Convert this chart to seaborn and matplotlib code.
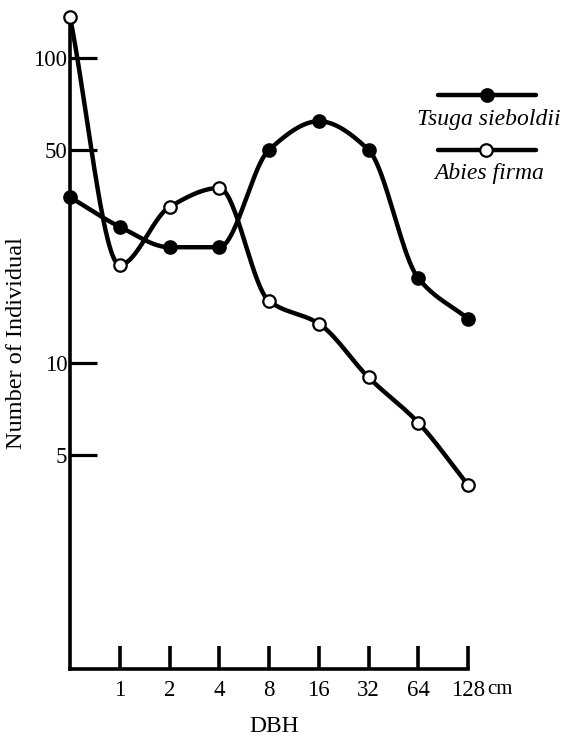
import numpy as np
import pandas as pd
import matplotlib
matplotlib.use("Agg")
import matplotlib.pyplot as plt
from matplotlib.lines import Line2D
import seaborn as sns

# ---- data ----
dbh_classes = ["<1", "1", "2", "4", "8", "16", "32", "64", "128"]
tick_labels = ["1", "2", "4", "8", "16", "32", "64", "128"]
tsuga = [35, 28, 24, 24, 50, 62, 50, 19, 14]
abies = [136, 21, 32.5, 37.5, 16, 13.5, 9, 6.4, 4.0]
y_ticks = [5, 10, 50, 100]
series_names = ["Tsuga sieboldii", "Abies firma"]

sns.set_style("white")
plt.rcParams["font.family"] = ["Liberation Serif", "DejaVu Serif"]
plt.rcParams["text.color"] = "black"
plt.rcParams["xtick.color"] = "black"
plt.rcParams["ytick.color"] = "black"

W, H = 568, 738
fig = plt.figure(figsize=(W / 100, H / 100), dpi=100)
ax = fig.add_axes([70 / W, 1 - 669 / H, 398 / W, (669 - 17) / H])


def smooth(xs, ys, n=40):
    """Monotone cubic (PCHIP) curve through the points, in (x, log10 y)."""
    x = np.asarray(xs, float)
    y = np.log10(np.asarray(ys, float))
    h = np.diff(x)
    d = np.diff(y) / h
    m = np.zeros_like(y)
    for k in range(1, len(y) - 1):
        if d[k - 1] * d[k] > 0:
            w1 = 2 * h[k] + h[k - 1]
            w2 = h[k] + 2 * h[k - 1]
            m[k] = (w1 + w2) / (w1 / d[k - 1] + w2 / d[k])
    m[0] = d[0]
    m[-1] = d[-1]
    ox, oy = [], []
    t = np.linspace(0, 1, n)
    for k in range(len(x) - 1):
        h00 = 2 * t ** 3 - 3 * t ** 2 + 1
        h10 = t ** 3 - 2 * t ** 2 + t
        h01 = -2 * t ** 3 + 3 * t ** 2
        h11 = t ** 3 - t ** 2
        ox.extend(x[k] + t * h[k])
        oy.extend(h00 * y[k] + h10 * h[k] * m[k] + h01 * y[k + 1]
                  + h11 * h[k] * m[k + 1])
    return np.array(ox), 10 ** np.array(oy)


idx = np.arange(len(dbh_classes))
lw = 3.2
for vals, face in ((tsuga, "black"), (abies, "white")):
    sx, sy = smooth(idx, vals)
    curve = pd.DataFrame({"x": sx, "y": sy})
    sns.lineplot(data=curve, x="x", y="y", sort=False, color="black",
                 linewidth=lw, ax=ax, clip_on=False, zorder=3)
    pts = pd.DataFrame({"x": idx, "y": vals})
    sns.scatterplot(data=pts, x="x", y="y", s=80, color=face,
                    edgecolor="black", linewidth=1.6, ax=ax,
                    clip_on=False, zorder=5)

ax.set_yscale("log")
ax.set_xlim(0, 8)
ax.set_ylim(1, 136)

for side in ("top", "right"):
    ax.spines[side].set_visible(False)
for side in ("left", "bottom"):
    ax.spines[side].set_linewidth(2.6)
    ax.spines[side].set_color("black")
    ax.spines[side].set_capstyle("projecting")

ax.set_yticks(y_ticks)
ax.set_yticklabels([str(v) for v in y_ticks])
ax.yaxis.set_minor_locator(matplotlib.ticker.NullLocator())
ax.set_xticks(range(1, len(tick_labels) + 1))
ax.set_xticklabels(tick_labels)
ax.tick_params(axis="y", direction="in", length=19.5, width=2.3,
               pad=2, labelsize=16.5, left=True, colors="black")
ax.tick_params(axis="x", direction="in", length=16.5, width=2.6,
               pad=8, labelsize=16.5, bottom=True, colors="black")
for t in ax.xaxis.get_ticklines() + ax.yaxis.get_ticklines():
    t.set_solid_capstyle("round")

ax.set_xlabel("")
ax.set_ylabel("")


def fx(x):
    return x / W


def fy(y):
    return 1 - y / H


fig.text(fx(487), fy(690), "cm", fontsize=15, ha="left", va="center")
fig.text(fx(274), fy(726), "DBH", fontsize=17, ha="center", va="center")
fig.text(fx(17), fy(343), "Number of Individual", fontsize=17.5,
         rotation=90, ha="center", va="center")

# ---- legend drawn by hand (text under each handle) ----
leg = [(95, 119, 487, "black"), (150, 173, 486, "white")]
for (ly, ty, mx, face), name in zip(leg, series_names):
    fig.add_artist(Line2D([fx(438), fx(536)], [fy(ly), fy(ly)],
                          color="black", linewidth=lw,
                          transform=fig.transFigure))
    fig.add_artist(Line2D([fx(mx)], [fy(ly)], marker="o", markersize=9,
                          markerfacecolor=face, markeredgecolor="black",
                          markeredgewidth=1.6, linestyle="none",
                          transform=fig.transFigure))
    fig.text(fx(489), fy(ty), name, fontsize=17, style="italic",
             ha="center", va="center")

fig.savefig("out.png", dpi=100)
